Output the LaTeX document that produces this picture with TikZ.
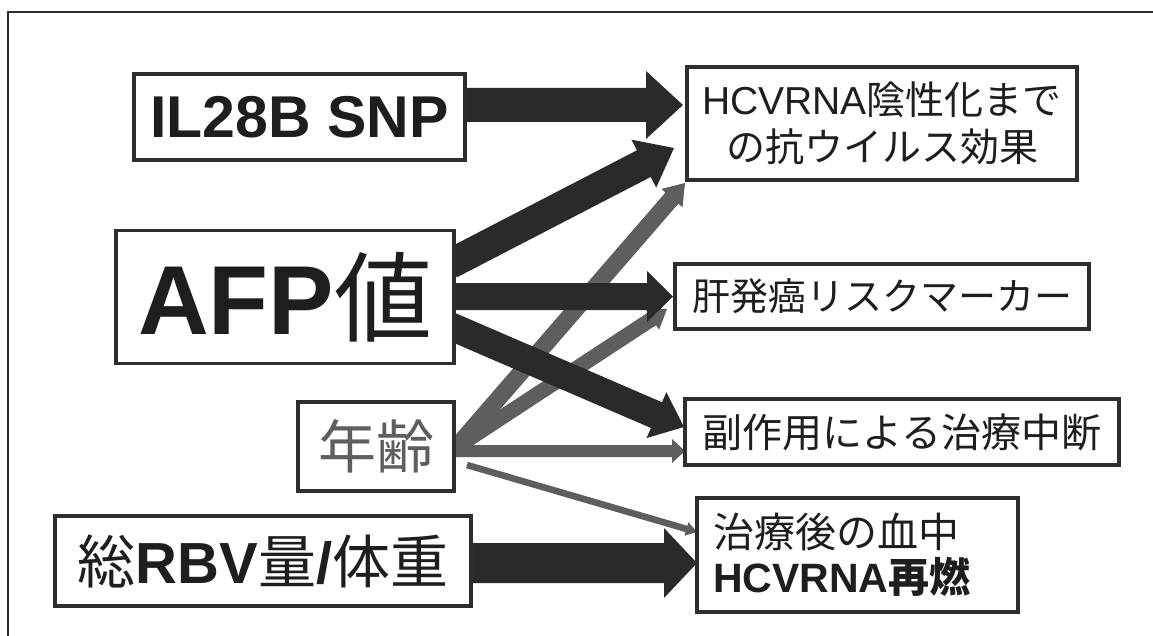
\documentclass[tikz,border=0pt]{standalone}
\usepackage{fontspec}
\setmainfont{Liberation Sans}
\newfontfamily\cjk{Noto Sans CJK JP}
\usetikzlibrary{calc}
\definecolor{ink}{HTML}{1E1E1E}
\definecolor{dk}{HTML}{2A2A2A}
\definecolor{gr}{HTML}{5E5E5E}
\definecolor{bd}{HTML}{2E2E2E}
\newcommand\fs[2]{\fontsize{#1pt}{#2pt}\selectfont}
% block arrow: #1 fill colour, #2 tail, #3 tip, #4 shaft half width, #5 head half width, #6 head length
\newcommand\barrow[6]{%
  \coordinate (bc) at ($(#3)!#6!(#2)$);
  \fill[#1] ($(#2)!#4!90:(#3)$) -- ($(bc)!#4!90:(#3)$) -- ($(bc)!#5!90:(#3)$) -- (#3)
     -- ($(bc)!#5!-90:(#3)$) -- ($(bc)!#4!-90:(#3)$) -- ($(#2)!#4!-90:(#3)$) -- cycle;
}
\begin{document}
\begin{tikzpicture}[x=1pt,y=-1pt,
  box/.style={draw=bd, line width=3.3pt, fill=white, inner sep=0pt, text=ink, align=center}]
\useasboundingbox (0,0) rectangle (1153,636);
\fill[white] (0,0) rectangle (1153,636);
\draw[line width=2.2pt, draw=bd] (8,660) -- (8,12) -- (1180,12);

% arrow end points
\coordinate (ilS) at (460,105);   \coordinate (ilE) at (683,105);
\coordinate (afS1) at (450,264);  \coordinate (afE1) at (674,148);
\coordinate (afS2) at (450,296.5);\coordinate (afE2) at (673,296.5);
\coordinate (afS3) at (450,326);  \coordinate (afE3) at (684,427);
\coordinate (agS1) at (452,452);  \coordinate (agE1) at (685,183);
\coordinate (agS2) at (452,450);  \coordinate (agE2) at (667,309);
\coordinate (agS3) at (450,451);  \coordinate (agE3) at (685,451);
\coordinate (agS4) at (467,465);  \coordinate (agE4) at (697,532);
\coordinate (rbS) at (466,563);   \coordinate (rbE) at (697,563);

% grey arrows from the age box
\barrow{gr}{agS1}{agE1}{8.5pt}{14pt}{20pt}
\barrow{gr}{agS2}{agE2}{7.5pt}{13pt}{18pt}
\barrow{gr}{agS3}{agE3}{6pt}{12pt}{13pt}
\barrow{gr}{agS4}{agE4}{3.3pt}{7pt}{11pt}
% dark arrows
\barrow{dk}{ilS}{ilE}{17pt}{34pt}{37pt}
\barrow{dk}{afS1}{afE1}{15pt}{27pt}{34pt}
\barrow{dk}{afS2}{afE2}{13.5pt}{25.5pt}{26pt}
\barrow{dk}{afS3}{afE3}{14pt}{25pt}{30pt}
\barrow{dk}{rbS}{rbE}{20pt}{35pt}{33pt}

% boxes
\node[box, minimum width=331pt, minimum height=86pt, font=\fs{59}{60}\bfseries] (il) at (299.5,117)
  {IL28B SNP};
\node[box, minimum width=390pt, minimum height=113pt, font=\fs{39}{47}] (hcv) at (882,123.5)
  {HCVRNA{\cjk 陰性化まで}\\{\cjk の抗ウイルス効果}};
\node[box, minimum width=338pt, minimum height=133pt, font=\fs{98}{98}] (afp) at (285,297)
  {\textbf{AFP}{\cjk 値}};
\node[box, minimum width=414pt, minimum height=65pt, font=\fs{38}{40}\cjk] (liver) at (882,296.5)
  {肝発癌リスクマーカー};
\node[box, minimum width=156pt, minimum height=89pt, text=gr, font=\fs{58}{60}\cjk] (age) at (376,446.5)
  {年齢};
\node[box, minimum width=434pt, minimum height=66pt, font=\fs{40}{42}\cjk] (side) at (902,432)
  {副作用による治療中断};
\node[box, minimum width=416pt, minimum height=90pt, font=\fs{58}{60}] (rbv) at (263,561)
  {{\cjk 総}\textbf{RBV}{\cjk 量}\textbf{/}{\cjk 体重}};
\node[box, minimum height=114pt, text width=289pt, inner xsep=16pt, align=left, font=\fs{41}{45}] (rel) at (857.5,555)
  {{\cjk 治療後の血中}\\\textbf{HCVRNA}{\bfseries\cjk 再燃}};

\path (il.east) -- (hcv.west) (afp.east) -- (liver.west) (age.east) -- (side.west) (rbv.east) -- (rel.west);
\end{tikzpicture}
\end{document}
